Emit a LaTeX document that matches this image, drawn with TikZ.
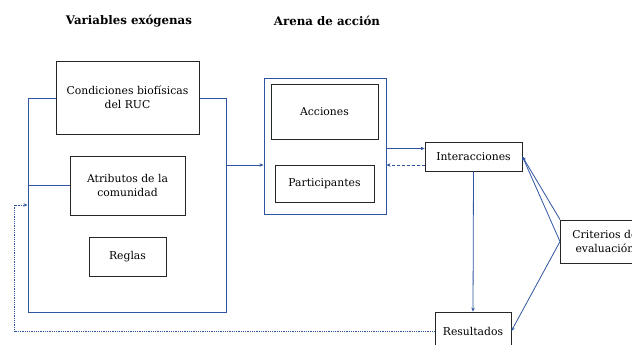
\documentclass[tikz,border=0pt]{standalone}
\usepackage{fontspec}
\setmainfont{DejaVu Serif}
\usetikzlibrary{arrows.meta}
\definecolor{linkblue}{RGB}{47,84,160}
\tikzset{
  box/.style={draw=black!85,line width=0.8pt,fill=white,align=center,
    font=\fontsize{10.8}{14.5}\selectfont,inner sep=0pt},
  frame/.style={draw=linkblue,line width=0.9pt},
  flow/.style={linkblue,line width=0.8pt,-{Stealth[length=4pt,width=3.5pt]}},
  title/.style={font=\fontsize{11.8}{14}\selectfont\bfseries}
}
\begin{document}
\begin{tikzpicture}[x=1pt,y=-1pt]
      \useasboundingbox (0,0) rectangle (632,345);
      \draw
        (129,21) node[title] (t1){Variables exógenas}
        (327,21) node[title] (t2){Arena de acción};
      % exogenas
      \draw
        (127,205) node[frame,minimum width=198pt,minimum height=214pt] (exog){}
        (127.5,97.5) node[box,minimum width=143pt,minimum height=73pt] (cond){Condiciones biofísicas\\del RUC}
        (127.5,185.5) node[box,minimum width=115pt,minimum height=59pt] (atrib){Atributos de la\\comunidad}
        (127.5,256.5) node[box,minimum width=77pt,minimum height=39pt] (reglas){Reglas};
      % arena
      \draw
        (325,146) node[frame,minimum width=122pt,minimum height=136pt] (arena){}
        (324.5,111.5) node[box,minimum width=107pt,minimum height=55pt] (acc){Acciones}
        (324.5,183.5) node[box,minimum width=99pt,minimum height=37pt] (part){Participantes}
        (473.5,156.5) node[box,minimum width=97pt,minimum height=29pt] (inter){Interacciones}
        (473,331) node[box,minimum width=76pt,minimum height=38pt] (res){Resultados}
        (560,241.5) node[box,anchor=west,inner xsep=12pt,minimum height=43pt] (crit){Criterios de\\evaluación};
      \coordinate (p1) at ([yshift=40pt]exog.east);
      \begin{scope}[flow]
        \draw[-] (atrib.west -| exog.west) -- (atrib.west);
        \draw (p1) -- (p1 -| arena.west);
        \draw ([yshift=8pt]inter.west -| arena.east) -- ([yshift=8pt]inter.west);
        \draw[densely dashed] ([yshift=-8.5pt]inter.west) -- ([yshift=-8.5pt]inter.west -| arena.east);
        \draw (inter.south) -- (res.north);
        \draw (crit.north west) -- (inter.east);
        \draw (crit.west) -- (inter.east);
        \draw (crit.west) -- (res.east);
        \draw[densely dotted] (res.west) -- ++(-420,0) |- (exog.west);
      \end{scope}
    \end{tikzpicture}
\end{document}
